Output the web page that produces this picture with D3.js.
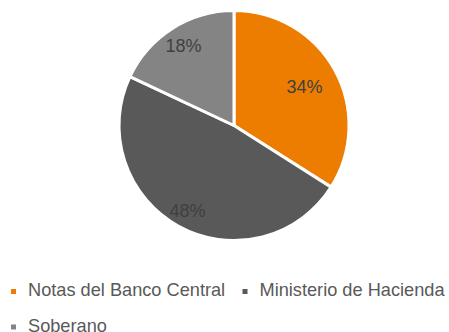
<!DOCTYPE html>
<html>
<head>
<meta charset="utf-8">
<script src="https://cdn.jsdelivr.net/npm/d3@7"></script>
<style>
  body { margin: 0; background: #fff; }
  svg { display: block; }
</style>
</head>
<body>
<div id="chart"></div>
<script>
var categories = ["Notas del Banco Central", "Ministerio de Hacienda", "Soberano"];
var shares = [34, 48, 18];
var colors = ["#ED7D00", "#595959", "#848484"];

var svgWidth = 449;
var svgHeight = 332;

var cx = 234, cy = 125.5, radius = 115;
// label distance from centre, as a share of the radius (Excel best-fit look)
var labelR = [0.70, 0.84, 0.82];

var svg = d3.select("#chart")
  .append("svg")
  .attr("width", svgWidth)
  .attr("height", svgHeight);

var pieGroup = svg.append("g")
  .attr("transform", `translate(${cx}, ${cy})`);

var pie = d3.pie().sort(null).value(d => d);
var arcs = pie(shares);

var arc = d3.arc().innerRadius(0).outerRadius(radius);

pieGroup.selectAll("path")
  .data(arcs)
  .enter()
  .append("path")
  .attr("d", arc)
  .attr("fill", (d, i) => colors[i])
  .attr("stroke", "#fff")
  .attr("stroke-width", 3)
  .attr("stroke-linejoin", "round");

pieGroup.selectAll("text.lbl")
  .data(arcs)
  .enter()
  .append("text")
  .attr("class", "lbl")
  .attr("transform", function(d, i) {
    var a = (d.startAngle + d.endAngle) / 2;
    var r = radius * labelR[i];
    return `translate(${Math.sin(a) * r}, ${-Math.cos(a) * r})`;
  })
  .attr("text-anchor", "middle")
  .attr("dy", "0.36em")
  .attr("fill", "#404040")
  .attr("font-family", "Liberation Sans, Arial, sans-serif")
  .attr("font-size", "18px")
  .text(d => d.data + "%");

// legend
var legendPos = [[11, 296], [242.5, 296], [11, 331.5]];

var legend = svg.selectAll("g.legend")
  .data(categories)
  .enter()
  .append("g")
  .attr("class", "legend")
  .attr("transform", (d, i) => `translate(${legendPos[i][0]}, ${legendPos[i][1]})`);

legend.append("rect")
  .attr("x", 0)
  .attr("y", -7)
  .attr("width", 5)
  .attr("height", 5)
  .attr("fill", (d, i) => colors[i]);

legend.append("text")
  .attr("x", 17)
  .attr("y", 0)
  .attr("fill", "#595959")
  .attr("font-family", "Liberation Sans, Arial, sans-serif")
  .attr("font-size", "18.2px")
  .text(d => d);
</script>
</body>
</html>
